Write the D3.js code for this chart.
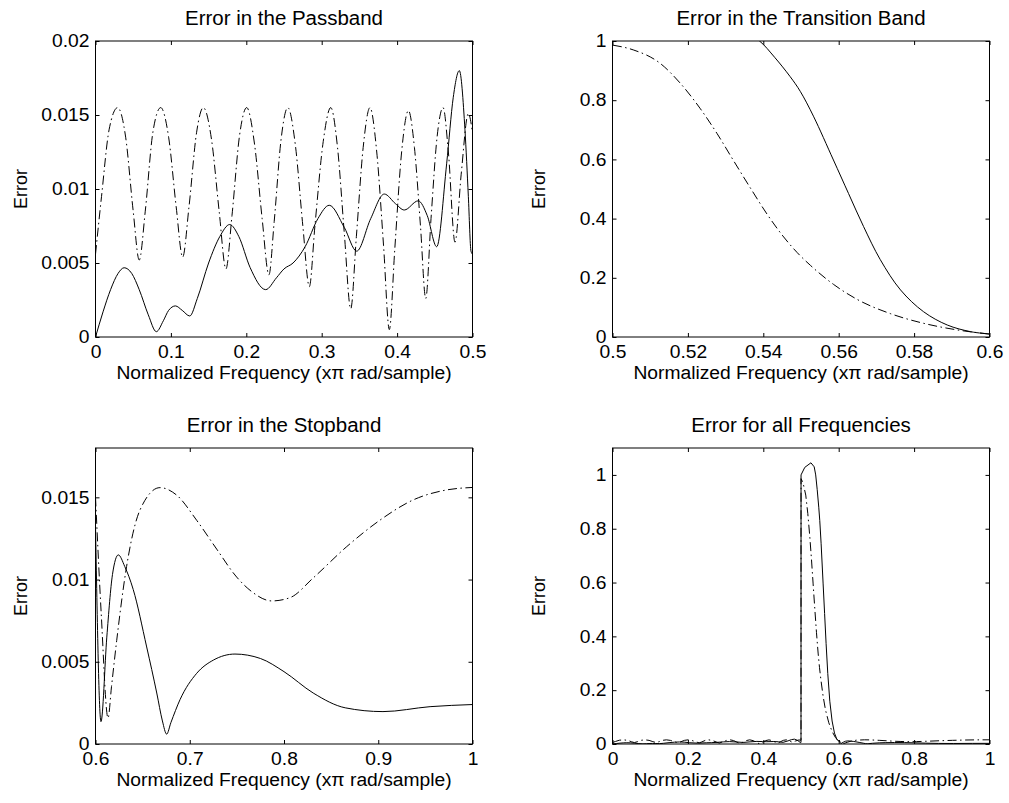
<!DOCTYPE html>
<html><head><meta charset="utf-8">
<script src="https://cdn.jsdelivr.net/npm/d3@7/dist/d3.min.js"></script>
<style>
body{margin:0;background:#fff}
text{font-family:"Liberation Sans",Arial,Helvetica,sans-serif;fill:#000}
</style>
</head><body>
<svg id="c" width="1009" height="803"></svg>
<script>
// ---------------- DATA ----------------
// Passband (0..0.5)
const passSolidF = [0,0.01,0.02,0.03,0.038,0.048,0.058,0.07,0.0807,0.09,0.097,0.106,0.115,0.125,0.135,0.15,0.165,0.178,0.19,0.205,0.2257,0.24,0.25,0.262,0.278,0.295,0.31,0.33,0.3464,0.365,0.383,0.398,0.4095,0.428,0.44,0.4525,0.4657,0.4745,0.4825,0.49,0.4945,0.498,0.5];
const passSolidE = [0,0.0017,0.0032,0.0043,0.00468,0.0043,0.0032,0.0015,0.00036,0.0011,0.0018,0.0021,0.0018,0.00142,0.0026,0.005,0.0068,0.0076,0.0068,0.0047,0.0032,0.0040,0.0046,0.0050,0.0061,0.0080,0.0089,0.0074,0.0058,0.0080,0.00966,0.0090,0.00858,0.0092,0.0082,0.0061,0.0117,0.0162,0.018,0.014,0.0095,0.0058,0.0056];
const passDashF = [0,0.008,0.018,0.0294,0.04,0.05,0.058,0.066,0.076,0.0865,0.097,0.107,0.1156,0.124,0.134,0.143,0.154,0.164,0.173,0.181,0.191,0.2005,0.211,0.221,0.230,0.237,0.246,0.255,0.265,0.275,0.2836,0.291,0.302,0.312,0.321,0.330,0.3385,0.346,0.355,0.364,0.373,0.382,0.3897,0.397,0.406,0.415,0.423,0.431,0.438,0.445,0.453,0.461,0.468,0.4768,0.485,0.4945,0.5];
const passDashE = [0.0056,0.0095,0.014,0.0155,0.0135,0.0085,0.0052,0.0085,0.0138,0.0155,0.0135,0.0088,0.0054,0.0088,0.0138,0.0155,0.0133,0.0085,0.0046,0.0082,0.0136,0.0155,0.013,0.008,0.0042,0.0078,0.0133,0.0155,0.013,0.0075,0.0034,0.0075,0.0132,0.0155,0.0128,0.007,0.0019,0.0068,0.0128,0.0155,0.0125,0.0062,0.0005,0.006,0.0125,0.0153,0.0128,0.0075,0.0026,0.008,0.0135,0.0155,0.0125,0.0064,0.011,0.0151,0.0138];

// Transition band (0.5..0.6)
const transSolidF = [0.5001,0.51,0.5264,0.535,0.539,0.543,0.5471,0.5498,0.5533,0.5586,0.5626,0.5666,0.571,0.5764,0.5825,0.5888,0.595,0.6];
const transSolidE = [1.0,1.028,1.045,1.03,1.0,0.945,0.88,0.83,0.746,0.598,0.485,0.373,0.262,0.159,0.0855,0.0405,0.018,0.01];
const transDashF = [0.5001,0.5055,0.5126,0.518,0.5232,0.5277,0.532,0.5365,0.541,0.5454,0.549,0.5525,0.5586,0.5649,0.5737,0.5826,0.5914,0.6];
const transDashE = [0.986,0.97,0.925,0.857,0.773,0.688,0.598,0.505,0.415,0.338,0.285,0.242,0.178,0.127,0.079,0.046,0.024,0.01];

// Stopband (0.6..1)
const stopSolidF = [0.6,0.6058,0.612,0.618,0.6242,0.631,0.64,0.6543,0.665,0.671,0.6755,0.68,0.6897,0.7074,0.725,0.748,0.775,0.80,0.831,0.865,0.905,0.955,1.0];
const stopSolidE = [0.0133,0.00136,0.0065,0.0103,0.0115,0.0108,0.0094,0.0059,0.0031,0.0014,0.0006,0.0013,0.0027,0.0043,0.0051,0.00547,0.0052,0.0044,0.0031,0.0022,0.00197,0.00227,0.0024];
const stopDashF = [0.6,0.606,0.6133,0.617,0.6225,0.633,0.6472,0.6684,0.686,0.7074,0.7286,0.7498,0.765,0.787,0.8064,0.831,0.8665,0.902,0.937,0.9726,1.0];
const stopDashE = [0.015,0.008,0.00158,0.0035,0.0063,0.0108,0.01423,0.01559,0.01514,0.0136,0.01185,0.01015,0.0093,0.0087,0.0089,0.0101,0.012,0.01362,0.01484,0.01545,0.0156];

// Tick values and labels
const passXTicks = [0,0.1,0.2,0.3,0.4,0.5];
const passXLabels = ["0","0.1","0.2","0.3","0.4","0.5"];
const passYTicks = [0,0.005,0.01,0.015,0.02];
const passYLabels = ["0","0.005","0.01","0.015","0.02"];
const transXTicks = [0.5,0.52,0.54,0.56,0.58,0.6];
const transXLabels = ["0.5","0.52","0.54","0.56","0.58","0.6"];
const unitYTicks = [0,0.2,0.4,0.6,0.8,1];
const unitYLabels = ["0","0.2","0.4","0.6","0.8","1"];
const stopXTicks = [0.6,0.7,0.8,0.9,1];
const stopXLabels = ["0.6","0.7","0.8","0.9","1"];
const stopYTicks = [0,0.005,0.01,0.015];
const stopYLabels = ["0","0.005","0.01","0.015"];
const allXTicks = [0,0.2,0.4,0.6,0.8,1];
const allXLabels = ["0","0.2","0.4","0.6","0.8","1"];

const titles = ["Error in the Passband","Error in the Transition Band","Error in the Stopband","Error for all Frequencies"];
const xLabelText = "Normalized Frequency (x\u03c0 rad/sample)";
const yLabelText = "Error";

// ---------------- DRAWING ----------------
const svg = d3.select("#c");
const SX = 1.07; // slight horizontal stretch of the text in the reference
const FS = 18, TFS = 19.5;
const PW = 377, PH = 296;
const DASH = "9,3.5,1.5,3.5";

function stretchText(sel){
  sel.each(function(){
    const t = d3.select(this);
    const x = +t.attr("x")||0, y = +t.attr("y")||0;
    t.attr("x",0).attr("y",0).attr("transform",`translate(${x},${y}) scale(${SX},1)`);
  });
}

function panel(o){
  const g = svg.append("g").attr("transform",`translate(${o.left},${o.top})`);
  const x = d3.scaleLinear().domain(o.xd).range([0,PW]);
  const y = d3.scaleLinear().domain(o.yd).range([PH,0]);
  const cid = "clip"+o.id;
  g.append("clipPath").attr("id",cid).append("rect").attr("width",PW).attr("height",PH);

  const plot = g.append("g").attr("clip-path",`url(#${cid})`);
  o.series.forEach(s=>{
    const line = d3.line().x(d=>x(d[0])).y(d=>y(d[1])).curve(s.curve||o.curve);
    plot.append("path").datum(s.data).attr("d",line)
      .attr("fill","none").attr("stroke","#000").attr("stroke-width",1)
      .attr("stroke-dasharray",s.dash?DASH:null);
  });

  // axes (ticks inside, on all four sides)
  const ax = g.append("g").attr("transform",`translate(0,${PH})`)
    .call(d3.axisBottom(x).tickValues(o.xt).tickFormat((d,i)=>o.xl[i]).tickSizeInner(-4).tickSizeOuter(0).tickPadding(8));
  const ay = g.append("g")
    .call(d3.axisLeft(y).tickValues(o.yt).tickFormat((d,i)=>o.yl[i]).tickSizeInner(-4).tickSizeOuter(0).tickPadding(6));
  const at = g.append("g")
    .call(d3.axisTop(x).tickValues(o.xt).tickFormat("").tickSizeInner(-4).tickSizeOuter(0));
  const ar = g.append("g").attr("transform",`translate(${PW},0)`)
    .call(d3.axisRight(y).tickValues(o.yt).tickFormat("").tickSizeInner(-4).tickSizeOuter(0));
  [ax,ay,at,ar].forEach(a=>{
    a.select(".domain").remove();
    a.selectAll("line").attr("stroke","#000");
    a.selectAll("text").attr("font-size",FS);
    a.attr("font-family",null).attr("font-size",null);
  });
  stretchText(ax.selectAll("text"));
  stretchText(ay.selectAll("text"));

  g.append("rect").attr("width",PW).attr("height",PH)
    .attr("fill","none").attr("stroke","#000").attr("stroke-width",1);

  // title
  g.append("text").attr("text-anchor","middle").attr("font-size",TFS)
    .attr("transform",`translate(${PW/2},-16) scale(1.05,1)`).text(o.title);
  // x label
  g.append("text").attr("text-anchor","middle").attr("font-size",FS)
    .attr("transform",`translate(${PW/2},${PH+42}) scale(${SX},1)`).text(xLabelText);
  // y label
  g.append("text").attr("text-anchor","middle").attr("font-size",FS)
    .attr("transform",`translate(${o.ylx},${PH/2}) scale(${SX},1) rotate(-90)`).text(yLabelText);
}

const pS = d3.zip(passSolidF,passSolidE), pD = d3.zip(passDashF,passDashE);
const tS = d3.zip(transSolidF,transSolidE), tD = d3.zip(transDashF,transDashE);
const sS = d3.zip(stopSolidF,stopSolidE), sD = d3.zip(stopDashF,stopDashE);

const L = 95.5, R = 612.5, T = 41, B = 448;

panel({id:1,left:L,top:T,xd:[0,0.5],yd:[0,0.02],xt:passXTicks,xl:passXLabels,yt:passYTicks,yl:passYLabels,
  title:titles[0],ylx:-69,curve:d3.curveMonotoneX,series:[{data:pD,dash:true},{data:pS}]});
panel({id:2,left:R,top:T,xd:[0.5,0.6],yd:[0,1],xt:transXTicks,xl:transXLabels,yt:unitYTicks,yl:unitYLabels,
  title:titles[1],ylx:-68,curve:d3.curveMonotoneX,
  series:[{data:tD,dash:true},{data:tS,curve:d3.curveCatmullRom.alpha(0.5)}]});
panel({id:3,left:L,top:B,xd:[0.6,1],yd:[0,0.018],xt:stopXTicks,xl:stopXLabels,yt:stopYTicks,yl:stopYLabels,
  title:titles[2],ylx:-69,curve:d3.curveMonotoneX,series:[{data:sD,dash:true},{data:sS}]});
panel({id:4,left:R,top:B,xd:[0,1],yd:[0,1.1],xt:allXTicks,xl:allXLabels,yt:unitYTicks,yl:unitYLabels,
  title:titles[3],ylx:-68,curve:d3.curveLinear,
  series:[{data:pD.concat(tD,sD),dash:true},{data:pS.concat(tS,sS)}]});
</script>
</body></html>
